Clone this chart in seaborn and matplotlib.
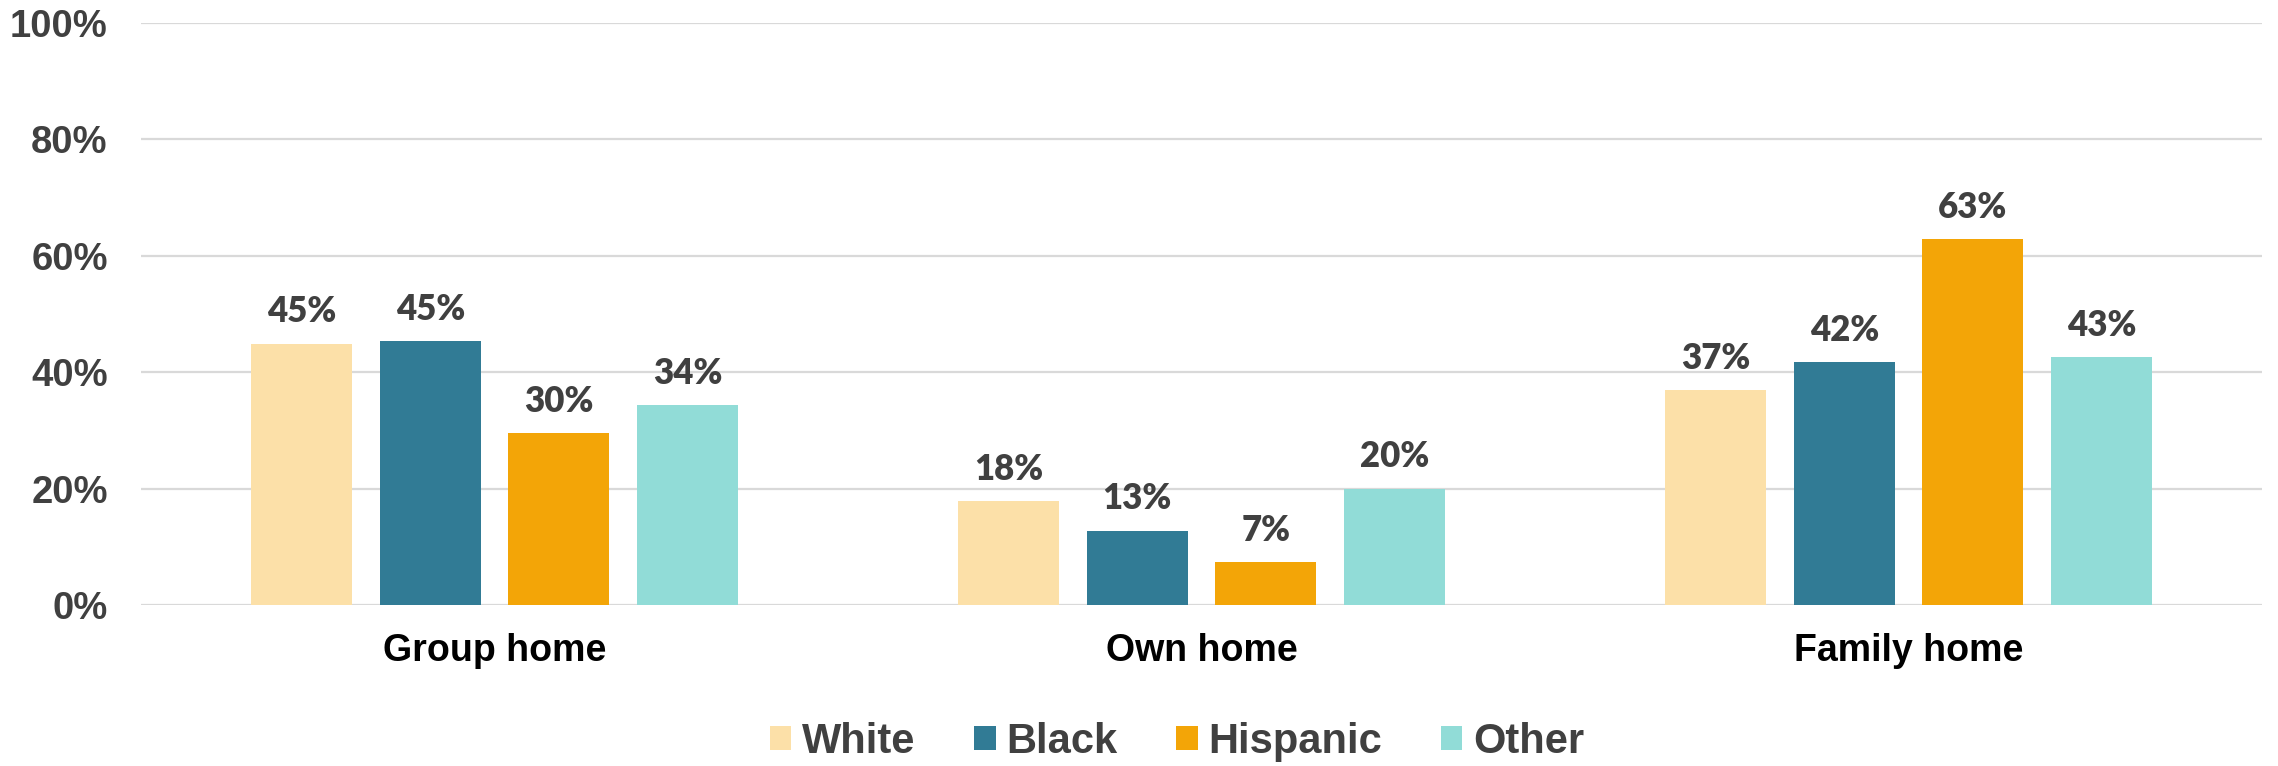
import matplotlib
matplotlib.use("Agg")
import matplotlib.pyplot as plt
from matplotlib.patches import Patch
import seaborn as sns
import pandas as pd

# Living arrangement by race/ethnicity (percent)
settings = ["Group home", "Own home", "Family home"]
groups = ["White", "Black", "Hispanic", "Other"]
white = [44.9, 17.8, 36.9]
black = [45.3, 12.8, 41.7]
hispanic = [29.5, 7.4, 62.9]
other = [34.3, 20.0, 42.6]
y_ticks = [0, 20, 40, 60, 80, 100]

colors = ["#FCE0A8", "#317B95", "#F3A507", "#91DCD7"]
text_gray = "#404040"
grid_gray = "#D9D9D9"

rows = []
for name, vals in zip(groups, [white, black, hispanic, other]):
    for setting, v in zip(settings, vals):
        rows.append({"setting": setting, "group": name, "pct": v})
df = pd.DataFrame(rows)

plt.rcParams["font.family"] = ["Liberation Sans", "DejaVu Sans"]

fig = plt.figure(figsize=(22.78, 7.66), dpi=100)
ax = fig.add_axes([141 / 2278, 1 - 605 / 766, (2262 - 141) / 2278, (605 - 23) / 766])

sns.barplot(
    data=df, x="setting", y="pct", hue="group",
    order=settings, hue_order=groups, palette=colors,
    width=0.728, gap=0.215, saturation=1, legend=False,
    linewidth=0, ax=ax, errorbar=None,
)

ax.set_ylim(0, 100)
ax.set_xlim(-0.5, 2.5)
ax.set_yticks(y_ticks)
ax.set_yticklabels([f"{t}%" for t in y_ticks])
ax.set_xlabel("")
ax.set_ylabel("")
ax.set_axisbelow(True)
ax.yaxis.grid(True, color=grid_gray, linewidth=1.6)
ax.xaxis.grid(False)
for s in ax.spines.values():
    s.set_visible(False)
ax.tick_params(axis="both", length=0)
ax.tick_params(axis="y", pad=24, labelsize=27.5, labelcolor=text_gray)
ax.tick_params(axis="x", pad=20, labelsize=27, labelcolor="black")
for lab in ax.get_yticklabels() + ax.get_xticklabels():
    lab.set_fontweight("bold")

for cont, vals in zip(ax.containers, [white, black, hispanic, other]):
    ax.bar_label(
        cont, labels=[f"{v:.0f}%" for v in vals], padding=11,
        fontsize=25, fontweight="heavy", color=text_gray,
        family=["Lato", "DejaVu Sans"],
    )

handles = [Patch(facecolor=c, edgecolor="none", label=g) for c, g in zip(colors, groups)]
fig.legend(
    handles=handles, loc="center", ncol=4, frameon=False,
    bbox_to_anchor=(1177 / 2278, 1 - 742 / 766),
    prop={"size": 30, "weight": "bold"}, labelcolor=text_gray,
    handlelength=0.52, handleheight=0.52, handletextpad=0.26,
    columnspacing=1.4, borderpad=0,
)

fig.savefig("out.png", dpi=100)
